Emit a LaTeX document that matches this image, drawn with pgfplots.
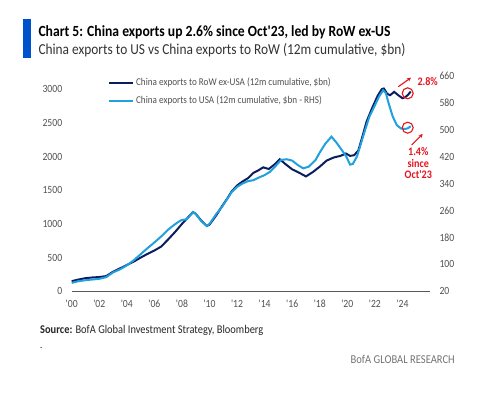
\documentclass[border=0pt]{standalone}
\usepackage{fontspec}
\setmainfont{Carlito}
\newfontfamily\cond{Carlito}[FakeStretch=0.88]
\usepackage{pgfplots}
\pgfplotsset{compat=1.18}
\usetikzlibrary{arrows.meta}
\definecolor{navy}{RGB}{10,30,95}
\definecolor{lblue}{RGB}{32,160,220}
\definecolor{bofa}{RGB}{0,82,204}
\definecolor{bred}{RGB}{230,20,30}
\definecolor{tgray}{RGB}{80,80,80}
\begin{document}
\begin{tikzpicture}
\begin{scope}[x=1pt,y=1pt]
\useasboundingbox (0,0) rectangle (479,393);
\fill[bofa] (23.3,335.3) rectangle (30.7,374);
\node[anchor=base west, inner sep=0, font=\cond\bfseries\fontsize{15.5}{17}\selectfont] at (38.3,356.3) {Chart 5: China exports up 2.6\% since Oct'23, led by RoW ex-US};
\node[anchor=base west, inner sep=0, font=\cond\fontsize{15.2}{17}\selectfont, text=black!80] at (38.3,338.7) {China exports to US vs China exports to RoW (12m cumulative, \$bn)};
\node[anchor=base west, inner sep=0, font=\cond\fontsize{11.85}{13}\selectfont, text=black!85] at (40,59) {\textbf{Source:} BofA Global Investment Strategy, Bloomberg};
\node[anchor=base west, inner sep=0, font=\cond\fontsize{10}{12}\selectfont] at (40,44) {.};
\node[anchor=base east, inner sep=0, font=\cond\fontsize{12}{13}\selectfont, text=black!55] at (455,29) {BofA GLOBAL RESEARCH};
\end{scope}

\begin{axis}[at={(71.7pt,101.7pt)}, anchor=south west, scale only axis,
  width=358.3pt, height=215.6pt,
  xmin=2000, xmax=2026, ymin=0, ymax=3200,
  axis x line*=bottom, axis y line*=left,
  y axis line style={draw=none},
  x axis line style={draw=black!65, line width=0.9pt, -},
  major tick length=0pt,
  xtick={2000,2002,...,2024},
  xticklabels={'00,'02,'04,'06,'08,'10,'12,'14,'16,'18,'20,'22,'24},
  ytick={0,500,...,3000},
  tick label style={font=\cond\fontsize{11}{12}\selectfont, text=tgray},
  /pgf/number format/assume math mode=true,
  /pgf/number format/1000 sep={},
  yticklabel style={xshift=-6pt},
  xticklabel style={yshift=-5.5pt},
  legend style={draw=none, fill=none, at={(0.101,0.999)}, anchor=north west,
    font=\cond\fontsize{10.4}{12}\selectfont, text=tgray, row sep=5pt,
    inner sep=0pt, cells={anchor=west}},
  legend image code/.code={\draw[#1] (0pt,0pt) -- (24pt,0pt);},
  clip=false,
]
\addplot[navy, line width=2pt] coordinates {
(2000.0,150) (2000.5,175) (2001.0,195) (2001.5,205) (2002.0,212) (2002.5,225)
(2003.0,290) (2003.5,340) (2004.0,390) (2004.5,440) (2005.0,500) (2005.5,555)
(2006.0,605) (2006.5,665) (2007.0,770) (2007.5,880) (2008.0,1000) (2008.5,1110)
(2008.8,1175) (2009.0,1150) (2009.4,1050) (2009.8,970) (2010.0,990) (2010.5,1130)
(2010.9,1260) (2011.3,1380) (2011.6,1480) (2012.0,1570) (2012.4,1630) (2012.8,1680)
(2013.2,1760) (2013.5,1790) (2013.9,1840) (2014.3,1815) (2014.7,1880) (2015.1,1960)
(2015.5,1890) (2016.0,1810) (2016.5,1760) (2017.0,1705) (2017.5,1770) (2018.0,1850)
(2018.5,1940) (2019.0,1985) (2019.5,2010) (2019.9,2045) (2020.2,2010) (2020.5,2020)
(2020.8,2090) (2021.1,2300) (2021.4,2520) (2021.8,2720) (2022.2,2900) (2022.5,3000)
(2022.65,3010) (2022.9,2930) (2023.1,2910) (2023.4,2960) (2023.7,2910) (2024.0,2866)
(2024.2,2880) (2024.4,2915) (2024.6,2964)
};
\addlegendentry{China exports to RoW ex-USA (12m cumulative, \$bn)}
\addlegendimage{lblue, line width=2pt}
\addlegendentry{China exports to USA (12m cumulative, \$bn - RHS)}
\end{axis}

\begin{axis}[at={(71.7pt,101.7pt)}, anchor=south west, scale only axis,
  width=358.3pt, height=215.6pt,
  xmin=2000, xmax=2026, ymin=20, ymax=660,
  axis x line=none, axis y line*=right,
  y axis line style={draw=none},
  major tick length=0pt,
  ytick={20,100,...,660},
  tick label style={font=\cond\fontsize{11}{12}\selectfont, text=tgray},
  /pgf/number format/assume math mode=true,
  yticklabel style={xshift=6pt},
  clip=false,
]
\addplot[lblue, line width=2pt] coordinates {
(2000.0,45) (2000.5,50) (2001.0,53) (2001.5,55) (2002.0,57) (2002.5,62)
(2003.0,76) (2003.5,85) (2004.0,97) (2004.5,112) (2005.0,130) (2005.5,148)
(2006.0,165) (2006.5,183) (2007.0,203) (2007.3,213) (2007.7,225) (2008.0,232)
(2008.3,233) (2008.5,240) (2008.8,255) (2009.0,250) (2009.4,228) (2009.8,214)
(2010.0,220) (2010.5,250) (2010.9,270) (2011.3,295) (2011.6,314) (2012.0,330)
(2012.4,340) (2012.8,347) (2013.2,350) (2013.6,358) (2014.0,365) (2014.4,375)
(2014.8,392) (2015.2,410) (2015.6,412) (2016.0,408) (2016.4,395) (2016.8,385)
(2017.2,390) (2017.7,410) (2018.0,432) (2018.4,458) (2018.85,479) (2019.2,462)
(2019.5,445) (2019.9,422) (2020.2,396) (2020.4,398) (2020.7,420) (2021.0,460)
(2021.3,500) (2021.6,538) (2022.0,572) (2022.3,598) (2022.6,617) (2022.8,608)
(2023.0,578) (2023.3,538) (2023.6,513) (2023.9,503) (2024.2,502) (2024.4,504)
(2024.6,510)
};
\end{axis}

\begin{scope}[x=1pt,y=1pt]
\draw[bred, line width=1.1pt] (407.7,299.7) circle (5.5);
\draw[bred, line width=1.1pt] (407.7,265.3) circle (5.5);
\draw[bred, line width=1.1pt, -{Stealth[length=4pt,width=4pt]}] (398.3,306.3) -- (411,315.3);
\draw[bred, line width=1.1pt, -{Stealth[length=4pt,width=4pt]}] (411.7,248) -- (422.7,259);
\node[anchor=west, inner sep=0, font=\cond\bfseries\fontsize{11.5}{12}\selectfont, text=bred] at (417.3,311.3) {2.8\%};
\node[align=center, inner sep=0, font=\cond\bfseries\fontsize{11.5}{11.5}\selectfont, text=bred] at (418.3,229.5) {1.4\%\\since\\Oct'23};
\end{scope}
\end{tikzpicture}
\end{document}
